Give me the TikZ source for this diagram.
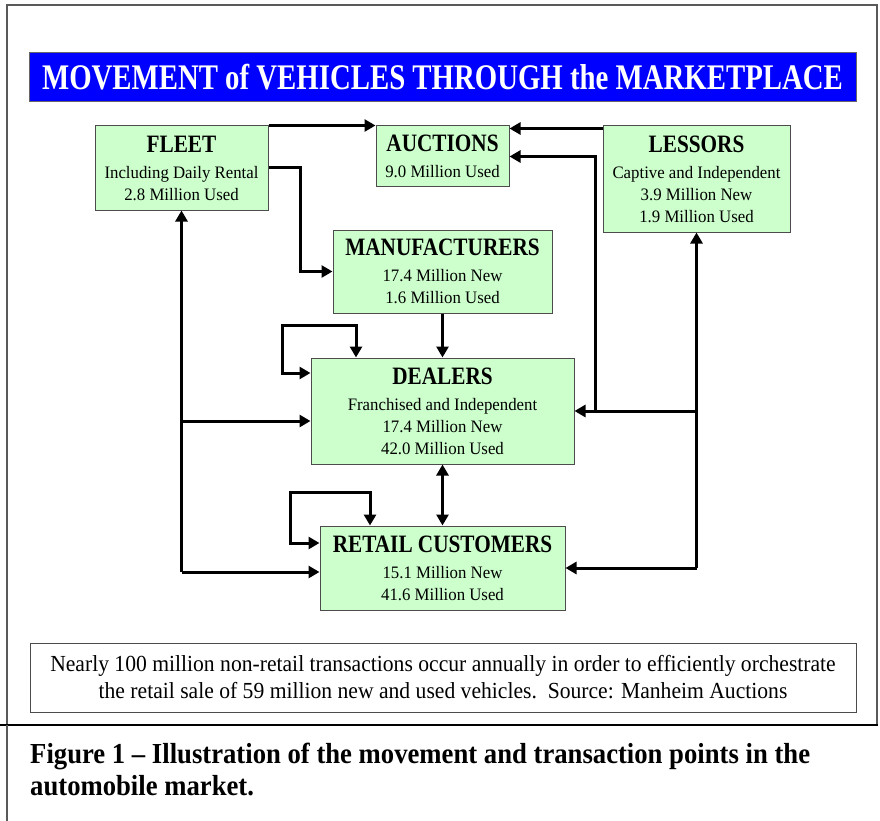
\documentclass[tikz,border=0pt]{standalone}
\usepackage{fontspec}
\setmainfont{Liberation Serif}
\newfontfamily\titlefont[FakeStretch=0.8]{Liberation Serif}
\newfontfamily\headfont[FakeStretch=0.85]{Liberation Serif}
\newfontfamily\boxfont[FakeStretch=0.96]{Liberation Serif}
\newfontfamily\notefont[FakeStretch=0.94]{Liberation Serif}
\newfontfamily\capfont[FakeStretch=0.92]{Liberation Serif}
\usetikzlibrary{arrows.meta}
\definecolor{boxgreen}{HTML}{CCFFCC}
\definecolor{bannerblue}{HTML}{0000FF}
\newcommand\boxhead[1]{{\headfont\bfseries\fontsize{25}{26}\selectfont #1}\\[4pt]}
\begin{document}
\begin{tikzpicture}[x=1pt,y=-1pt,
  box/.style={draw=black!70, line width=1pt, fill=boxgreen, align=center, inner sep=0pt,
    font=\boxfont\fontsize{17.5}{22}\selectfont},
  arr/.style={line width=3pt, -{Triangle[length=11pt,width=12pt]}},
  dbl/.style={line width=3pt, {Triangle[length=11pt,width=12pt]}-{Triangle[length=11pt,width=12pt]}},
  frame/.style={draw=black!65, line width=1.5pt}]
\useasboundingbox (0,0) rectangle (880,821);

% outer frame
\draw[frame] (7,725) -- (7,5) -- (877,5) -- (877,725);
\draw[line width=2pt] (0,725) -- (878,725);
\draw[frame] (7,725) -- (7,821);

% title banner
\node[draw=black!60, line width=1pt, fill=bannerblue, minimum width=827pt, minimum height=49pt,
  inner sep=0pt, text=white, font=\titlefont\bfseries\fontsize{36}{40}\selectfont]
  (title) at (442.5,77.5) {MOVEMENT of VEHICLES THROUGH the MARKETPLACE};

% boxes
\node[box, minimum width=173pt, minimum height=84pt] (fleet) at (181.5,168)
  {\boxhead{FLEET}Including Daily Rental\\2.8 Million Used};
\node[box, minimum width=133pt, minimum height=61pt] (auct) at (442.5,156.5)
  {\boxhead{AUCTIONS}9.0 Million Used};
\node[box, minimum width=187pt, minimum height=106pt] (less) at (696.5,179)
  {\boxhead{LESSORS}Captive and Independent\\3.9 Million New\\1.9 Million Used};
\node[box, minimum width=219pt, minimum height=83pt] (manu) at (442.5,271.5)
  {\boxhead{MANUFACTURERS}17.4 Million New\\1.6 Million Used};
\node[box, minimum width=263pt, minimum height=106pt] (deal) at (442.5,411)
  {\boxhead{DEALERS}Franchised and Independent\\17.4 Million New\\42.0 Million Used};
\node[box, minimum width=245pt, minimum height=84pt] (retail) at (442.5,568)
  {\boxhead{RETAIL CUSTOMERS}15.1 Million New\\41.6 Million Used};

% connectors
\draw[arr] (fleet.north east) -- (auct.north west);
\draw[arr] (fleet.east) -- ++(32,0) |- (manu.west);
\draw[arr] ([yshift=-3pt]less.north west) -- ([yshift=-3pt]less.north west -| auct.east);
\draw[arr] (manu.south) -- (deal.north);
\draw[dbl] (deal.south) -- (retail.north);

% right bus
\coordinate (rb) at (retail.east -| less.south);
\draw[arr] (rb) -- (less.south);
\draw[arr] (deal.east -| less.south) -- (deal.east);
\draw[arr] (rb) -- (retail.east);
\draw[arr] ([xshift=21pt]deal.east) |- (auct.east);

% left bus
\coordinate (lb) at ([yshift=-4pt]retail.west -| fleet.south);
\draw[arr] (lb) -- (fleet.south);
\draw[arr] ([yshift=-10pt]deal.west -| fleet.south) -- ([yshift=-10pt]deal.west);
\draw[arr] (lb) -- ([yshift=-4pt]retail.west);

% self loops
\draw[dbl] ([yshift=38pt]deal.west) -- ++(-28,0) |- ([xshift=-86.5pt,yshift=32pt]deal.north) -- ([xshift=-86.5pt]deal.north);
\draw[dbl] ([yshift=25pt]retail.west) -- ++(-29,0) |- ([xshift=-72.5pt,yshift=33pt]retail.north) -- ([xshift=-72.5pt]retail.north);

% note box
\node[draw=black!70, line width=1pt, minimum width=826pt, minimum height=69pt, inner sep=0pt,
  align=center, font=\notefont\fontsize{23}{27}\selectfont] (note) at (443,677.5)
  {Nearly 100 million non-retail transactions occur annually in order to efficiently orchestrate\\
   the retail sale of 59 million new and used vehicles.\ \ Source: Manheim Auctions};

% caption
\node[anchor=north west, inner sep=0pt, align=left, font=\capfont\bfseries\fontsize{29}{32}\selectfont]
  (caption) at (30,743)
  {Figure 1 – Illustration of the movement and transaction points in the\\automobile market.};
\end{tikzpicture}
\end{document}
